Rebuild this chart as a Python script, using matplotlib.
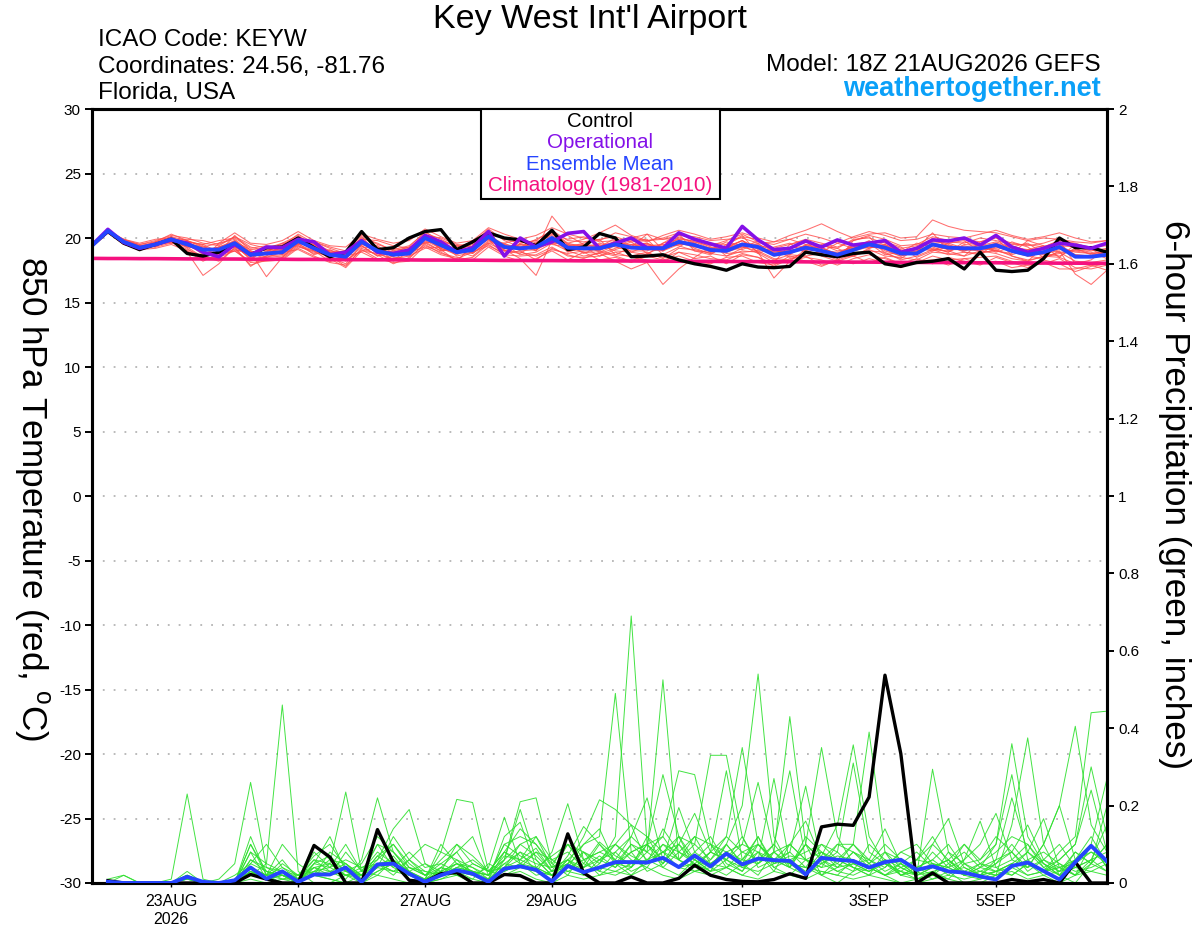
import matplotlib
matplotlib.use("Agg")
import matplotlib.pyplot as plt
from matplotlib.patches import Rectangle

plt.rcParams['font.family'] = ['Liberation Sans', 'DejaVu Sans']
plt.rcParams['axes.unicode_minus'] = False
plt.rcParams['mathtext.fontset'] = 'custom'
plt.rcParams['mathtext.rm'] = 'Liberation Sans'

# ---------------- data ----------------
temp_hours = list(range(0, 385, 6))      # 18Z 21AUG2026 + h
precip_hours = list(range(6, 385, 6))

tick_hours = [30, 78, 126, 174, 246, 294, 342]
tick_labels = ["23AUG\n2026", "25AUG", "27AUG", "29AUG", "1SEP", "3SEP", "5SEP"]

control_temp = [19.45, 20.5, 19.6, 19.1, 19.5, 19.9, 18.8, 18.6, 18.9, 19.55, 18.7, 19.25, 19.3,
                20.0, 19.25, 18.55, 18.9, 20.5, 19.1, 19.25, 20.0, 20.5, 20.65, 19.1, 19.7, 20.4,
                20.0, 19.85, 19.4, 20.6, 19.1, 19.3, 20.35, 20.0, 18.55, 18.6, 18.7, 18.3, 18.0,
                17.8, 17.5, 18.0, 17.75, 17.7, 17.8, 18.9, 18.7, 18.55, 18.8, 18.9, 18.0, 17.8,
                18.1, 18.2, 18.4, 17.6, 18.9, 17.5, 17.4, 17.5, 18.4, 20.0, 19.25, 19.25, 18.9]

operational_temp = [19.45, 20.67, 19.66, 19.2, 19.5, 19.85, 19.6, 18.9, 18.55, 19.5, 18.7, 19.3, 19.25,
                    19.9, 19.7, 18.7, 18.9, 19.8, 18.9, 18.8, 19.07, 20.2, 19.7, 18.9, 19.25, 20.5,
                    18.6, 20.0, 19.3, 19.7, 20.36, 20.5, 19.2, 19.6, 20.0, 19.25, 19.2, 20.4, 19.9,
                    19.55, 19.2, 20.9, 19.85, 19.1, 19.2, 19.77, 19.3, 19.85, 19.45, 19.6, 19.8, 18.9,
                    19.2, 19.85, 19.77, 20.0, 19.45, 20.2, 19.3, 18.9, 19.2, 19.6, 19.45, 19.2, 19.6]

mean_temp = [19.4, 20.55, 19.7, 19.25, 19.5, 19.9, 19.5, 19.1, 19.1, 19.6, 18.7, 18.8, 18.9,
             19.77, 19.2, 18.7, 18.55, 19.7, 19.0, 18.7, 18.8, 20.0, 19.45, 18.9, 19.07, 20.1,
             19.3, 19.2, 19.3, 20.0, 19.25, 19.2, 19.2, 19.5, 19.25, 19.2, 19.2, 19.7, 19.45,
             19.07, 19.0, 19.5, 19.3, 18.7, 18.9, 19.25, 19.0, 18.7, 19.07, 19.5, 19.25, 18.8,
             18.8, 19.5, 19.25, 19.2, 19.2, 19.45, 19.0, 18.7, 18.9, 19.3, 18.55, 18.55, 18.7]

climatology_temp = [18.42, 18.41, 18.41, 18.40, 18.40, 18.39, 18.38, 18.38, 18.37, 18.37, 18.36, 18.35, 18.35,
                    18.34, 18.34, 18.33, 18.32, 18.32, 18.31, 18.31, 18.30, 18.29, 18.29, 18.28, 18.28, 18.27,
                    18.26, 18.26, 18.25, 18.25, 18.24, 18.23, 18.23, 18.22, 18.22, 18.21, 18.20, 18.20, 18.19,
                    18.19, 18.18, 18.17, 18.17, 18.16, 18.16, 18.15, 18.14, 18.14, 18.13, 18.13, 18.12, 18.11,
                    18.11, 18.10, 18.10, 18.09, 18.08, 18.08, 18.07, 18.07, 18.06, 18.05, 18.05, 18.04, 18.04]

temp_m01 = [19.5, 20.6, 19.8, 19.5, 19.8, 20.2, 20.0, 19.6, 19.4, 20.1, 19.3, 19.0, 19.4,
            20.3, 19.6, 19.0, 18.9, 20.2, 19.5, 19.1, 19.4, 20.4, 19.9, 19.3, 19.6, 20.5,
            19.9, 19.6, 19.8, 20.6, 19.8, 19.7, 19.9, 20.1, 19.7, 19.8, 20.0, 20.4, 19.9,
            19.6, 19.5, 20.1, 19.9, 19.2, 19.5, 19.9, 19.6, 19.3, 19.8, 20.2, 19.9, 19.4,
            19.5, 20.1, 19.8, 19.9, 19.7, 20.0, 19.6, 19.4, 19.6, 20.0, 19.4, 19.3, 19.4]
temp_m02 = [19.3, 20.4, 19.6, 19.1, 19.2, 19.5, 19.0, 18.4, 18.5, 19.0, 18.1, 18.2, 18.3,
            19.2, 18.6, 18.1, 17.9, 19.1, 18.4, 18.1, 18.2, 19.4, 18.9, 18.3, 18.5, 19.5,
            18.7, 18.6, 18.7, 19.3, 18.6, 18.5, 18.6, 18.9, 18.5, 18.3, 18.1, 18.9, 18.7,
            18.4, 18.3, 18.8, 18.5, 18.0, 18.2, 18.5, 18.3, 17.9, 18.4, 18.7, 18.4, 18.0,
            18.1, 18.6, 18.3, 18.4, 18.5, 18.6, 18.2, 17.9, 18.0, 18.4, 17.7, 17.6, 17.9]
temp_m03 = [19.4, 20.5, 19.5, 19.2, 19.6, 19.8, 18.9, 17.1, 18.0, 19.3, 17.8, 18.6, 19.5,
            20.1, 19.5, 18.4, 17.7, 19.0, 19.3, 18.2, 18.9, 20.3, 19.1, 18.2, 19.4, 20.6,
            19.0, 18.8, 19.6, 20.5, 19.5, 18.8, 19.3, 20.0, 18.9, 18.7, 19.6, 20.3, 19.0,
            18.7, 19.5, 20.2, 18.8, 18.1, 19.5, 19.8, 18.6, 18.2, 19.8, 20.1, 18.8, 18.4,
            19.2, 20.4, 19.0, 18.6, 19.7, 20.1, 18.6, 18.2, 19.3, 19.8, 18.0, 18.3, 19.2]
temp_m04 = [19.5, 20.4, 19.9, 19.4, 19.3, 20.1, 19.8, 18.8, 18.9, 20.2, 19.0, 18.5, 18.6,
            19.5, 19.7, 19.2, 18.8, 19.4, 18.6, 18.9, 19.3, 19.6, 19.8, 19.4, 18.8, 19.7,
            19.6, 19.9, 19.0, 21.7, 20.2, 19.5, 18.9, 19.4, 19.8, 19.9, 18.7, 19.3, 20.0,
            19.6, 18.6, 19.2, 19.8, 19.1, 18.5, 18.8, 19.4, 19.2, 18.6, 19.2, 19.7, 19.3,
            18.5, 19.0, 19.6, 19.8, 18.9, 19.0, 19.7, 19.3, 18.5, 18.8, 19.1, 18.9, 18.4]
temp_m05 = [19.3, 20.5, 19.8, 19.2, 19.4, 19.7, 19.3, 19.2, 18.6, 19.4, 18.4, 19.0, 19.2,
            19.4, 18.8, 18.9, 18.2, 19.3, 19.2, 18.5, 18.4, 19.6, 19.0, 19.2, 18.8, 19.8,
            19.5, 18.7, 18.9, 19.6, 19.0, 18.6, 18.8, 18.2, 17.6, 18.1, 16.4, 17.6, 18.5,
            19.3, 18.8, 18.9, 19.0, 18.4, 18.3, 18.9, 18.7, 18.5, 18.6, 19.0, 18.9, 18.3,
            18.6, 19.1, 18.7, 18.9, 18.8, 19.1, 18.6, 18.3, 18.5, 18.9, 18.2, 18.1, 18.3]
temp_m06 = [19.4, 20.6, 19.7, 19.0, 19.7, 20.1, 19.2, 18.3, 19.6, 19.9, 18.9, 17.0, 18.5,
            19.6, 19.4, 18.3, 18.6, 20.1, 18.8, 18.3, 19.1, 20.2, 19.6, 18.6, 18.9, 20.3,
            19.1, 18.4, 17.1, 19.8, 19.6, 19.3, 18.6, 19.1, 19.5, 19.6, 19.0, 20.1, 19.6,
            18.9, 19.2, 19.8, 18.9, 16.9, 18.2, 19.1, 19.3, 18.4, 19.5, 19.7, 19.0, 18.6,
            19.0, 19.9, 19.4, 18.9, 18.7, 19.6, 19.2, 18.6, 18.4, 19.0, 17.2, 16.4, 17.5]
temp_m07 = [19.5, 20.5, 19.9, 19.6, 19.9, 20.0, 19.7, 19.5, 19.8, 20.0, 19.2, 19.4, 19.1,
            20.0, 19.7, 19.3, 19.0, 19.9, 19.8, 19.4, 19.2, 20.2, 20.0, 19.5, 19.3, 20.4,
            20.0, 19.8, 19.5, 20.3, 19.9, 20.1, 19.7, 19.8, 20.0, 20.3, 19.9, 20.2, 20.1,
            19.8, 19.9, 20.0, 19.6, 19.7, 20.2, 20.6, 21.1, 20.5, 20.0, 20.3, 20.4, 20.0,
            20.1, 21.4, 20.9, 20.6, 20.5, 20.4, 20.1, 19.8, 20.0, 19.9, 19.7, 19.6, 19.8]
temp_m08 = [19.3, 20.4, 19.5, 19.3, 19.6, 19.8, 19.6, 18.7, 19.3, 19.5, 18.3, 18.6, 18.7,
            19.9, 19.0, 18.5, 18.0, 19.5, 19.1, 18.9, 18.6, 19.8, 19.2, 18.7, 19.2, 19.9,
            19.2, 19.4, 19.0, 20.1, 18.9, 19.4, 19.5, 19.0, 18.9, 19.4, 19.5, 19.4, 19.0,
            18.9, 19.3, 19.1, 19.6, 18.6, 18.8, 19.4, 18.9, 18.8, 19.4, 19.2, 19.5, 19.0,
            19.0, 19.2, 18.9, 19.5, 19.4, 18.9, 19.3, 19.6, 18.8, 18.6, 19.2, 18.7, 18.9]
temp_m09 = [19.4, 20.5, 19.6, 19.2, 19.5, 19.9, 19.9, 19.8, 19.5, 20.1, 19.5, 19.2, 19.6,
            20.2, 19.4, 18.9, 18.7, 20.0, 19.6, 19.0, 19.3, 20.5, 19.7, 19.4, 19.6, 20.7,
            19.8, 19.3, 19.9, 20.5, 19.6, 19.9, 20.4, 21.0, 20.2, 19.8, 19.9, 20.0, 19.7,
            19.4, 19.8, 20.3, 19.7, 19.5, 19.9, 19.5, 19.4, 19.2, 19.9, 20.0, 19.6, 19.2,
            19.4, 19.9, 19.7, 19.6, 20.0, 19.8, 19.5, 19.5, 19.3, 19.8, 19.6, 19.2, 19.6]
temp_m10 = [19.5, 20.6, 19.7, 19.4, 19.3, 19.6, 19.4, 18.9, 18.8, 19.1, 18.8, 18.4, 18.4,
            19.3, 19.0, 18.2, 18.3, 19.0, 18.8, 18.4, 18.6, 19.2, 19.3, 19.0, 18.6, 19.6,
            19.0, 18.9, 18.6, 19.1, 18.8, 19.0, 19.0, 18.7, 18.6, 18.9, 18.4, 19.2, 19.1,
            18.8, 18.6, 19.0, 18.9, 18.3, 18.7, 18.6, 18.8, 18.3, 18.7, 19.1, 18.6, 18.5,
            18.3, 18.9, 18.8, 18.6, 19.0, 18.8, 18.4, 18.2, 18.6, 18.5, 18.0, 17.9, 18.1]
temp_m11 = [19.4, 20.5, 19.8, 19.4, 19.6, 20.0, 19.3, 18.5, 19.0, 19.8, 18.6, 18.9, 19.6,
            19.6, 18.7, 19.1, 18.4, 19.6, 19.3, 18.7, 19.2, 20.1, 19.1, 19.0, 19.5, 19.9,
            18.6, 19.6, 19.8, 19.5, 19.3, 19.6, 19.9, 18.7, 19.3, 20.3, 19.1, 19.6, 19.3,
            19.1, 19.7, 19.4, 18.8, 19.3, 19.6, 18.8, 18.9, 19.6, 19.2, 19.6, 18.7, 18.9,
            19.6, 19.3, 18.9, 19.7, 19.4, 19.0, 18.8, 19.8, 19.4, 18.5, 19.5, 19.3, 18.9]
temp_m12 = [19.3, 20.4, 19.7, 19.3, 19.5, 19.7, 19.6, 19.3, 19.0, 19.3, 18.5, 18.9, 19.1,
            19.7, 19.3, 18.6, 18.6, 19.8, 18.9, 18.7, 18.9, 19.9, 19.5, 18.8, 19.0, 20.0,
            19.4, 19.1, 19.3, 19.8, 19.2, 19.3, 19.1, 19.4, 19.3, 19.1, 19.0, 19.8, 19.5,
            19.2, 19.1, 19.4, 19.3, 18.9, 19.0, 19.1, 19.0, 18.9, 19.0, 19.3, 19.2, 18.9,
            18.8, 19.4, 19.1, 19.1, 19.0, 19.3, 19.1, 18.9, 18.8, 19.2, 18.7, 18.6, 18.8]
temp_m13 = [19.5, 20.5, 19.6, 19.2, 19.4, 19.8, 19.1, 18.6, 18.2, 19.2, 17.9, 18.3, 18.5,
            19.4, 18.9, 18.6, 17.8, 19.2, 18.7, 18.0, 18.5, 19.5, 18.8, 18.5, 18.3, 19.3,
            18.6, 18.2, 18.4, 19.0, 18.3, 18.9, 18.3, 18.5, 18.1, 18.6, 18.3, 18.6, 18.2,
            18.0, 18.5, 18.6, 18.1, 17.9, 18.6, 18.2, 17.8, 18.3, 18.0, 18.4, 18.1, 17.7,
            18.2, 18.3, 17.9, 18.4, 18.0, 18.2, 17.7, 17.9, 18.1, 17.6, 17.6, 17.9, 17.5]
temp_m14 = [19.4, 20.6, 19.8, 19.3, 19.6, 20.1, 19.4, 19.0, 19.3, 19.7, 19.1, 19.2, 18.8,
            19.9, 19.3, 19.0, 18.8, 19.9, 19.0, 18.9, 18.7, 20.1, 19.6, 19.1, 19.0, 20.2,
            19.5, 19.3, 19.6, 20.2, 19.4, 19.5, 19.3, 19.6, 19.5, 19.3, 19.4, 19.9, 19.8,
            19.3, 19.2, 19.6, 19.5, 19.0, 19.0, 19.3, 19.2, 18.8, 19.3, 19.7, 19.3, 19.1,
            18.9, 19.6, 19.4, 19.3, 19.2, 19.5, 19.0, 18.8, 19.1, 19.4, 19.3, 19.0, 19.2]
temp_m15 = [19.4, 20.4, 19.6, 19.3, 19.7, 19.6, 19.8, 19.4, 18.7, 19.0, 19.0, 18.7, 19.3,
            19.5, 19.0, 18.8, 19.0, 19.4, 18.6, 19.2, 19.0, 19.7, 19.0, 19.2, 18.9, 19.6,
            19.6, 19.0, 19.1, 19.7, 19.4, 18.9, 18.8, 19.2, 19.7, 18.8, 19.3, 19.5, 19.6,
            18.9, 19.4, 19.3, 19.0, 19.1, 18.7, 19.5, 19.1, 18.6, 19.2, 19.4, 19.5, 18.8,
            19.2, 19.0, 19.3, 19.0, 19.5, 19.0, 18.7, 19.1, 19.2, 18.9, 19.0, 19.1, 18.6]
temp_m16 = [19.5, 20.5, 19.7, 19.4, 19.4, 19.9, 19.6, 19.2, 19.2, 19.4, 18.9, 18.8, 19.0,
            19.7, 19.1, 18.8, 18.5, 19.6, 19.2, 18.7, 19.0, 19.9, 19.3, 18.9, 19.2, 20.0,
            19.3, 19.5, 19.2, 19.9, 19.3, 19.2, 19.4, 19.7, 19.3, 19.5, 19.3, 19.6, 19.5,
            19.0, 19.3, 19.8, 19.1, 19.0, 19.2, 19.4, 19.3, 18.7, 19.5, 19.4, 19.4, 18.9,
            19.1, 19.7, 19.6, 19.2, 19.4, 19.7, 19.3, 19.1, 19.4, 19.2, 18.9, 18.8, 19.0]
temp_m17 = [19.4, 20.5, 19.6, 19.3, 19.4, 19.7, 19.0, 18.2, 18.8, 19.0, 18.2, 18.5, 18.9,
            19.1, 18.5, 18.2, 18.6, 18.9, 18.3, 18.6, 18.9, 19.3, 18.7, 18.4, 18.9, 19.4,
            18.8, 19.0, 18.3, 19.2, 18.7, 18.4, 18.9, 18.6, 18.2, 18.8, 18.5, 18.9, 18.4,
            18.6, 18.0, 18.7, 18.5, 17.8, 18.4, 18.6, 17.9, 18.2, 18.6, 18.1, 18.5, 18.0,
            18.4, 18.0, 18.5, 18.2, 17.9, 18.5, 18.1, 17.7, 18.3, 18.0, 17.4, 17.8, 18.0]
temp_m18 = [19.5, 20.6, 19.9, 19.5, 19.7, 20.3, 19.8, 19.3, 19.6, 20.4, 19.6, 19.5, 19.8,
            20.5, 19.8, 19.4, 19.3, 20.3, 19.9, 19.6, 19.8, 20.7, 20.1, 19.6, 19.8, 20.8,
            20.3, 19.9, 20.2, 20.8, 20.3, 20.0, 19.8, 20.4, 20.1, 19.7, 20.2, 20.6, 20.3,
            19.9, 20.1, 20.4, 20.0, 19.7, 19.9, 20.3, 20.0, 19.6, 20.1, 20.5, 20.2, 19.8,
            19.9, 20.3, 20.1, 20.0, 20.3, 20.6, 20.2, 19.9, 20.1, 20.4, 20.0, 19.7, 19.8]
temp_m19 = [19.4, 20.5, 19.7, 19.2, 19.5, 20.0, 19.5, 19.0, 19.3, 19.8, 18.9, 19.1, 18.7,
            19.6, 19.5, 18.9, 18.4, 19.5, 19.4, 18.6, 19.0, 20.1, 19.2, 18.8, 19.3, 20.2,
            19.0, 19.5, 19.5, 20.4, 19.0, 19.1, 19.6, 19.3, 19.0, 19.0, 19.6, 19.9, 19.2,
            18.8, 19.3, 19.8, 19.2, 18.9, 19.0, 19.4, 18.8, 18.5, 19.2, 19.8, 19.1, 18.6,
            18.9, 20.0, 19.5, 19.0, 19.3, 19.6, 18.9, 18.6, 19.0, 19.5, 18.7, 18.6, 18.9]
temp_m20 = [19.3, 20.4, 19.6, 19.4, 19.6, 19.8, 19.7, 19.5, 18.9, 19.7, 18.6, 19.3, 19.0,
            19.8, 19.1, 18.7, 18.7, 19.7, 18.8, 19.0, 18.7, 19.7, 19.6, 19.0, 19.1, 19.9,
            19.2, 19.2, 19.7, 19.6, 19.5, 19.4, 19.0, 19.8, 19.4, 19.6, 19.0, 19.5, 19.7,
            19.2, 18.9, 19.3, 19.4, 19.2, 19.1, 19.0, 19.5, 19.0, 19.2, 19.3, 19.4, 18.9,
            19.3, 19.1, 19.0, 19.4, 19.1, 19.2, 19.4, 19.0, 18.7, 19.1, 19.0, 18.8, 18.9]

control_precip = [0.006, 0, 0, 0, 0, 0, 0, 0, 0, 0.022, 0.01, 0, 0, 0.097, 0.067, 0,
                  0, 0.138, 0.054, 0.007, 0.003, 0.024, 0.027, 0, 0, 0.022, 0.019, 0, 0, 0.127, 0.026, 0,
                  0, 0.016, 0, 0, 0.012, 0.046, 0.02, 0.009, 0.004, 0.003, 0.009, 0.024, 0.012, 0.145, 0.152, 0.149,
                  0.222, 0.537, 0.334, 0, 0.026, 0, 0, 0, 0, 0.009, 0.003, 0.009, 0, 0.054, 0, 0]

mean_precip = [0.003, 0, 0, 0, 0, 0.016, 0.003, 0, 0.007, 0.04, 0.011, 0.03, 0.003, 0.022, 0.022, 0.04,
               0.003, 0.048, 0.05, 0.024, 0.003, 0.02, 0.033, 0.024, 0.003, 0.037, 0.043, 0.034, 0.004, 0.044, 0.028, 0.04,
               0.054, 0.054, 0.053, 0.065, 0.041, 0.071, 0.043, 0.076, 0.048, 0.063, 0.059, 0.057, 0.022, 0.065, 0.06, 0.057,
               0.04, 0.054, 0.06, 0.034, 0.043, 0.03, 0.027, 0.017, 0.009, 0.044, 0.053, 0.031, 0.009, 0.054, 0.096, 0.056]

precip_m01 = [0, 0, 0, 0, 0, 0, 0, 0, 0, 0.02, 0.05, 0.46, 0.03, 0, 0, 0.02,
              0, 0.03, 0.05, 0.02, 0, 0.04, 0.02, 0, 0, 0.06, 0.21, 0.22, 0.05, 0.02, 0.08, 0.05,
              0.12, 0.69, 0.1, 0.04, 0.02, 0.06, 0.03, 0.1, 0.05, 0.02, 0.08, 0.43, 0.1, 0.02, 0, 0.03,
              0.05, 0.02, 0, 0, 0.01, 0.03, 0, 0, 0.02, 0.15, 0.375, 0.1, 0.02, 0, 0.05, 0.1]
precip_m02 = [0, 0.02, 0, 0, 0.01, 0.23, 0.01, 0, 0, 0.03, 0.01, 0.02, 0, 0.04, 0.03, 0.01,
              0.06, 0.22, 0.08, 0.03, 0, 0.01, 0.03, 0.02, 0, 0.04, 0.08, 0.06, 0.02, 0.04, 0.1, 0.12,
              0.49, 0.08, 0.03, 0.05, 0.12, 0.04, 0.06, 0.1, 0.2, 0.54, 0.12, 0.04, 0.02, 0.05, 0.03, 0.02,
              0.04, 0.02, 0.03, 0.01, 0.02, 0.05, 0.02, 0.04, 0.1, 0.36, 0.12, 0.05, 0.02, 0.06, 0.1, 0.04]
precip_m03 = [0, 0, 0, 0, 0, 0.02, 0, 0.01, 0.05, 0.26, 0.04, 0.03, 0.01, 0.02, 0.05, 0.235,
              0.03, 0.02, 0.06, 0.03, 0.01, 0.02, 0.06, 0.04, 0.01, 0.03, 0.05, 0.03, 0.02, 0.06, 0.03, 0.04,
              0.05, 0.1, 0.08, 0.525, 0.06, 0.03, 0.04, 0.02, 0.05, 0.08, 0.03, 0.1, 0.06, 0.04, 0.05, 0.1,
              0.39, 0.08, 0.02, 0.03, 0.05, 0.02, 0.01, 0.02, 0.03, 0.05, 0.02, 0.03, 0.08, 0.12, 0.44, 0.444]
precip_m04 = [0, 0, 0, 0, 0, 0, 0, 0, 0, 0.04, 0.02, 0, 0, 0.02, 0.01, 0,
              0.02, 0.04, 0.03, 0.06, 0.1, 0.08, 0.216, 0.208, 0.03, 0.02, 0.04, 0.08, 0.03, 0.05, 0.12, 0.215,
              0.19, 0.15, 0.12, 0.08, 0.04, 0.03, 0.05, 0.08, 0.04, 0.06, 0.1, 0.05, 0.02, 0.07, 0.15, 0.357,
              0.12, 0.05, 0.03, 0.02, 0.04, 0.06, 0.02, 0.01, 0.03, 0.05, 0.04, 0.1, 0.2, 0.405, 0.15, 0.08]
precip_m05 = [0, 0, 0, 0, 0, 0.03, 0, 0, 0, 0.06, 0.03, 0.02, 0.01, 0.05, 0.04, 0.06,
              0.04, 0.06, 0.14, 0.19, 0.05, 0.02, 0.04, 0.03, 0.02, 0.05, 0.04, 0.03, 0.08, 0.205, 0.06, 0.02,
              0.05, 0.04, 0.08, 0.12, 0.29, 0.28, 0.1, 0.06, 0.03, 0.08, 0.06, 0.04, 0.1, 0.35, 0.12, 0.05,
              0.03, 0.06, 0.04, 0.02, 0.294, 0.08, 0.02, 0.04, 0.03, 0.02, 0.05, 0.03, 0.04, 0.02, 0.05, 0.03]
precip_m06 = [0, 0, 0, 0, 0, 0, 0, 0, 0, 0.1, 0.03, 0.01, 0.02, 0.07, 0.1, 0.04,
              0.02, 0.1, 0.04, 0.02, 0.01, 0.08, 0.06, 0.02, 0.04, 0.17, 0.05, 0.02, 0.03, 0.04, 0.06, 0.08,
              0.06, 0.03, 0.05, 0.08, 0.06, 0.1, 0.33, 0.33, 0.12, 0.05, 0.08, 0.04, 0.1, 0.06, 0.03, 0.05,
              0.06, 0.14, 0.05, 0.02, 0.03, 0.01, 0.05, 0.06, 0.1, 0.28, 0.06, 0.03, 0.04, 0.06, 0.1, 0.27]
precip_m07 = [0, 0, 0, 0, 0, 0.02, 0, 0, 0, 0.12, 0.02, 0.03, 0.01, 0.03, 0.02, 0.08,
              0.03, 0.08, 0.05, 0.01, 0, 0.03, 0.1, 0.05, 0.03, 0.06, 0.19, 0.06, 0.02, 0.03, 0.05, 0.03,
              0.08, 0.12, 0.22, 0.06, 0.04, 0.05, 0.08, 0.12, 0.35, 0.1, 0.05, 0.08, 0.04, 0.02, 0.06, 0.04,
              0.02, 0.04, 0.08, 0.06, 0.1, 0.166, 0.05, 0.02, 0.03, 0.05, 0.08, 0.166, 0.04, 0.02, 0.06, 0.03]
precip_m08 = [0, 0, 0, 0, 0, 0, 0, 0, 0, 0.08, 0.01, 0.02, 0, 0.05, 0.12, 0.03,
              0.01, 0.04, 0.12, 0.06, 0.02, 0.05, 0.08, 0.02, 0.01, 0.12, 0.157, 0.04, 0.02, 0.07, 0.146, 0.1,
              0.05, 0.08, 0.1, 0.28, 0.12, 0.06, 0.03, 0.04, 0.08, 0.06, 0.27, 0.05, 0.04, 0.03, 0.02, 0.06,
              0.04, 0.02, 0.05, 0.03, 0.01, 0.02, 0.06, 0.16, 0.04, 0.02, 0.05, 0.03, 0.06, 0.1, 0.30, 0.12]
precip_m09 = [0.01, 0.02, 0, 0, 0, 0.01, 0, 0, 0, 0.04, 0.02, 0.01, 0.01, 0.02, 0.03, 0.02,
              0.02, 0.05, 0.03, 0.04, 0.02, 0.03, 0.05, 0.03, 0.01, 0.04, 0.1, 0.07, 0.03, 0.1, 0.05, 0.106,
              0.07, 0.05, 0.1, 0.06, 0.195, 0.08, 0.05, 0.04, 0.06, 0.1, 0.06, 0.08, 0.25, 0.05, 0.08, 0.31,
              0.08, 0.05, 0.03, 0.06, 0.05, 0.04, 0.02, 0.03, 0.05, 0.08, 0.03, 0.06, 0.04, 0.05, 0.08, 0.06]
precip_m10 = [0, 0, 0, 0, 0, 0, 0, 0, 0, 0.02, 0.01, 0.03, 0.02, 0.04, 0.05, 0.02,
              0.04, 0.05, 0.02, 0.06, 0.03, 0.02, 0.04, 0.06, 0.03, 0.08, 0.06, 0.04, 0.07, 0.1, 0.04, 0.06,
              0.04, 0.1, 0.06, 0.08, 0.1, 0.18, 0.08, 0.29, 0.06, 0.05, 0.1, 0.29, 0.06, 0.04, 0.1, 0.08,
              0.06, 0.03, 0.05, 0.08, 0.04, 0.06, 0.1, 0.05, 0.03, 0.04, 0.08, 0.05, 0.02, 0.04, 0.03, 0.05]
precip_m11 = [0, 0, 0, 0, 0, 0.01, 0, 0, 0, 0.05, 0.03, 0.02, 0, 0.03, 0.06, 0.05,
              0.02, 0.06, 0.1, 0.04, 0.03, 0.02, 0.05, 0.04, 0.02, 0.1, 0.07, 0.05, 0.04, 0.06, 0.02, 0.05,
              0.1, 0.06, 0.04, 0.1, 0.06, 0.12, 0.05, 0.08, 0.1, 0.26, 0.08, 0.05, 0.1, 0.06, 0.1, 0.1,
              0.05, 0.08, 0.04, 0.06, 0.12, 0.05, 0.08, 0.04, 0.06, 0.22, 0.08, 0.04, 0.06, 0.1, 0.24, 0.08]
precip_m12 = [0, 0, 0, 0, 0, 0.02, 0, 0, 0, 0.03, 0.01, 0.05, 0.02, 0.03, 0.04, 0.02,
              0.01, 0.03, 0.05, 0.02, 0.01, 0.04, 0.03, 0.02, 0.01, 0.05, 0.08, 0.03, 0.02, 0.05, 0.03, 0.04,
              0.03, 0.05, 0.06, 0.04, 0.08, 0.05, 0.03, 0.06, 0.04, 0.03, 0.05, 0.06, 0.03, 0.08, 0.04, 0.05,
              0.03, 0.05, 0.02, 0.01, 0.03, 0.04, 0.02, 0.03, 0.02, 0.04, 0.02, 0.03, 0.05, 0.03, 0.04, 0.06]
precip_m13 = [0, 0, 0, 0, 0, 0, 0, 0, 0, 0.08, 0.05, 0.03, 0.01, 0.1, 0.06, 0.03,
              0.05, 0.12, 0.08, 0.04, 0.02, 0.06, 0.1, 0.07, 0.03, 0.08, 0.14, 0.1, 0.05, 0.1, 0.08, 0.03,
              0.02, 0.04, 0.1, 0.12, 0.06, 0.04, 0.08, 0.06, 0.1, 0.08, 0.04, 0.02, 0.06, 0.08, 0.05, 0.03,
              0.1, 0.06, 0.02, 0.04, 0.06, 0.1, 0.04, 0.02, 0.05, 0.1, 0.05, 0.02, 0.03, 0.06, 0.12, 0.05]
precip_m14 = [0, 0, 0, 0, 0, 0.01, 0, 0, 0.02, 0.05, 0.1, 0.04, 0.02, 0.06, 0.05, 0.02,
              0.03, 0.05, 0.06, 0.03, 0.05, 0.03, 0.02, 0.05, 0.03, 0.04, 0.06, 0.12, 0.04, 0.06, 0.1, 0.14,
              0.05, 0.02, 0.06, 0.1, 0.08, 0.12, 0.1, 0.04, 0.02, 0.05, 0.08, 0.1, 0.06, 0.02, 0.04, 0.08,
              0.04, 0.02, 0.04, 0.02, 0.1, 0.06, 0.02, 0.05, 0.08, 0.12, 0.1, 0.04, 0.02, 0.08, 0.05, 0.2]
precip_m15 = [0, 0, 0, 0, 0, 0, 0, 0, 0, 0.03, 0.02, 0.1, 0.05, 0.02, 0.08, 0.05,
              0.02, 0.07, 0.04, 0.08, 0.04, 0.05, 0.03, 0.01, 0.05, 0.03, 0.05, 0.08, 0.06, 0.03, 0.02, 0.06,
              0.08, 0.04, 0.12, 0.05, 0.1, 0.06, 0.04, 0.1, 0.05, 0.12, 0.04, 0.06, 0.08, 0.1, 0.06, 0.04,
              0.02, 0.08, 0.06, 0.04, 0.02, 0.08, 0.05, 0.03, 0.02, 0.04, 0.06, 0.08, 0.05, 0.02, 0.1, 0.04]
precip_m16 = [0, 0, 0, 0, 0, 0.02, 0, 0, 0, 0.1, 0.02, 0.06, 0.01, 0.08, 0.04, 0.1,
              0.03, 0.1, 0.08, 0.03, 0.01, 0.1, 0.05, 0.03, 0.02, 0.1, 0.12, 0.1, 0.04, 0.12, 0.06, 0.08,
              0.1, 0.15, 0.05, 0.08, 0.12, 0.1, 0.06, 0.12, 0.08, 0.1, 0.06, 0.04, 0.12, 0.08, 0.06, 0.1,
              0.06, 0.04, 0.08, 0.1, 0.05, 0.04, 0.1, 0.06, 0.12, 0.08, 0.15, 0.06, 0.1, 0.04, 0.06, 0.15]
precip_m17 = [0, 0, 0, 0, 0, 0, 0, 0, 0, 0.06, 0.04, 0.02, 0, 0.05, 0.07, 0.03,
              0.02, 0.07, 0.1, 0.05, 0.02, 0.04, 0.08, 0.12, 0.02, 0.06, 0.1, 0.12, 0.06, 0.08, 0.04, 0.1,
              0.06, 0.12, 0.08, 0.05, 0.1, 0.04, 0.08, 0.06, 0.12, 0.04, 0.06, 0.1, 0.16, 0.06, 0.04, 0.08,
              0.05, 0.1, 0.06, 0.03, 0.08, 0.04, 0.06, 0.1, 0.18, 0.06, 0.04, 0.1, 0.2, 0.06, 0.08, 0.05]
precip_m18 = [0, 0, 0, 0, 0, 0.02, 0, 0, 0, 0.04, 0.02, 0.04, 0.01, 0.06, 0.03, 0.05,
              0.01, 0.04, 0.07, 0.02, 0.01, 0.03, 0.05, 0.02, 0.01, 0.08, 0.05, 0.04, 0.02, 0.06, 0.04, 0.07,
              0.04, 0.08, 0.1, 0.06, 0.04, 0.08, 0.12, 0.05, 0.03, 0.1, 0.06, 0.05, 0.04, 0.1, 0.08, 0.04,
              0.03, 0.06, 0.02, 0.04, 0.06, 0.03, 0.04, 0.02, 0.06, 0.08, 0.04, 0.06, 0.03, 0.08, 0.05, 0.1]
precip_m19 = [0, 0, 0, 0, 0, 0, 0, 0, 0, 0.01, 0, 0.01, 0, 0.02, 0.01, 0,
              0, 0.02, 0.01, 0, 0, 0.01, 0.02, 0.01, 0, 0.02, 0.03, 0.01, 0, 0.02, 0.01, 0.02,
              0.03, 0.02, 0.04, 0.02, 0.01, 0.03, 0.02, 0.04, 0.02, 0.01, 0.03, 0.02, 0.01, 0.03, 0.02, 0.01,
              0.02, 0.01, 0, 0.01, 0.02, 0.01, 0, 0.01, 0.02, 0.03, 0.01, 0.02, 0, 0.02, 0.03, 0.02]
precip_m20 = [0, 0, 0, 0, 0, 0, 0, 0, 0, 0.03, 0.01, 0.02, 0.01, 0.04, 0.02, 0.03,
              0.02, 0.05, 0.03, 0.02, 0.01, 0.02, 0.04, 0.03, 0.02, 0.07, 0.06, 0.09, 0.03, 0.05, 0.08, 0.06,
              0.1, 0.07, 0.05, 0.14, 0.08, 0.06, 0.1, 0.08, 0.06, 0.12, 0.05, 0.07, 0.06, 0.05, 0.07, 0.06,
              0.04, 0.06, 0.05, 0.02, 0.04, 0.06, 0.03, 0.05, 0.04, 0.06, 0.1, 0.05, 0.03, 0.04, 0.06, 0.08]

temp_members = [temp_m01, temp_m02, temp_m03, temp_m04, temp_m05, temp_m06, temp_m07, temp_m08,
                temp_m09, temp_m10, temp_m11, temp_m12, temp_m13, temp_m14, temp_m15, temp_m16,
                temp_m17, temp_m18, temp_m19, temp_m20]
precip_members = [precip_m01, precip_m02, precip_m03, precip_m04, precip_m05, precip_m06, precip_m07,
                  precip_m08, precip_m09, precip_m10, precip_m11, precip_m12, precip_m13, precip_m14,
                  precip_m15, precip_m16, precip_m17, precip_m18, precip_m19, precip_m20]

# ---------------- colours ----------------
RED = '#ff4a4a'
GREEN = '#2ee02e'
PURPLE = '#8410e8'
BLUE = '#2544ff'
PINK = '#f5117f'
SITE = '#0aa0f8'

# ---------------- figure ----------------
W, H = 1200, 927
fig = plt.figure(figsize=(W / 100, H / 100), dpi=100)
L, R, T, B = 92, 1107, 109, 883
ax = fig.add_axes([L / W, 1 - B / H, (R - L) / W, (B - T) / H])
ax.set_xlim(0, 384)
ax.set_ylim(-30, 30)

for yv in range(-25, 30, 5):
    ax.axhline(yv, color='#b4b4b4', lw=1.3, ls=(0, (1, 5)), zorder=0)

for m in temp_members:
    ax.plot(temp_hours[:len(m)], m, color=RED, lw=0.75, alpha=0.8, zorder=2)

ax.plot(temp_hours, climatology_temp, color=PINK, lw=2.6, zorder=4)
ax.plot(temp_hours, control_temp, color='black', lw=2.4, zorder=5)
ax.plot(temp_hours, operational_temp, color=PURPLE, lw=2.6, zorder=6)
ax.plot(temp_hours, mean_temp, color=BLUE, lw=2.8, zorder=7)

ax.set_yticks(list(range(-30, 31, 5)))
ax.set_yticklabels([str(v) for v in range(-30, 31, 5)])
ax.set_xticks(tick_hours)
ax.set_xticklabels(tick_labels)
ax.tick_params(axis='y', direction='out', length=5, width=1.4, labelsize=11, pad=3)
ax.tick_params(axis='x', direction='out', length=3, width=1.0, labelsize=11.5, pad=5)

ax2 = ax.twinx()
ax2.set_ylim(0, 2)
for m in precip_members:
    ax2.plot(precip_hours[:len(m)], m, color=GREEN, lw=0.7, alpha=0.9, zorder=2)
ax2.plot(precip_hours, control_precip, color='black', lw=2.4, zorder=5)
ax2.plot(precip_hours, mean_precip, color=BLUE, lw=2.8, zorder=6)

rt = [round(0.2 * i, 1) for i in range(11)]
ax2.set_yticks(rt)
ax2.set_yticklabels([f'{v:g}' for v in rt])
ax2.tick_params(axis='y', direction='out', length=5, width=1.4, labelsize=11, pad=3)

for a in (ax, ax2):
    for s in a.spines.values():
        s.set_linewidth(2.2)
        s.set_color('black')

# legend box
bx0 = (480.5 - L) / (R - L)
bx1 = (719.5 - L) / (R - L)
by0 = (B - 199) / (B - T)
ax2.add_patch(Rectangle((bx0, by0), bx1 - bx0, 1 - by0, transform=ax2.transAxes,
                        facecolor='white', edgecolor='black', lw=1.5, zorder=20, clip_on=False))
leg_items = [("Control", 'black', 127), ("Operational", PURPLE, 148),
             ("Ensemble Mean", BLUE, 170), ("Climatology (1981-2010)", PINK, 191)]
for txt, col, yb in leg_items:
    fig.text(600 / W, 1 - yb / H, txt, color=col, ha='center', va='baseline', fontsize=14.8, zorder=30)

# header texts
fig.text(590 / W, 1 - 28 / H, "Key West Int'l Airport", ha='center', va='baseline', fontsize=24.5)
fig.text(98 / W, 1 - 46 / H, "ICAO Code: KEYW", ha='left', va='baseline', fontsize=17.5)
fig.text(98 / W, 1 - 73 / H, "Coordinates: 24.56, -81.76", ha='left', va='baseline', fontsize=17.5)
fig.text(98 / W, 1 - 99.5 / H, "Florida, USA", ha='left', va='baseline', fontsize=17.5)
fig.text(1101 / W, 1 - 71 / H, "Model: 18Z 21AUG2026 GEFS", ha='right', va='baseline', fontsize=17.5)
fig.text(1101 / W, 1 - 96.5 / H, "weathertogether.net", ha='right', va='baseline', fontsize=19.5,
         fontweight='bold', color=SITE)

# axis labels
fig.text(32 / W, 1 - 499 / H, "850 hPa Temperature (red, $^{\\mathrm{o}}$C)", rotation=-90,
         ha='center', va='center', fontsize=25.3)
fig.text(1175 / W, 1 - 495 / H, "6-hour Precipitation (green, inches)", rotation=-90,
         ha='center', va='center', fontsize=25.3)

fig.savefig("out.png", dpi=100)
